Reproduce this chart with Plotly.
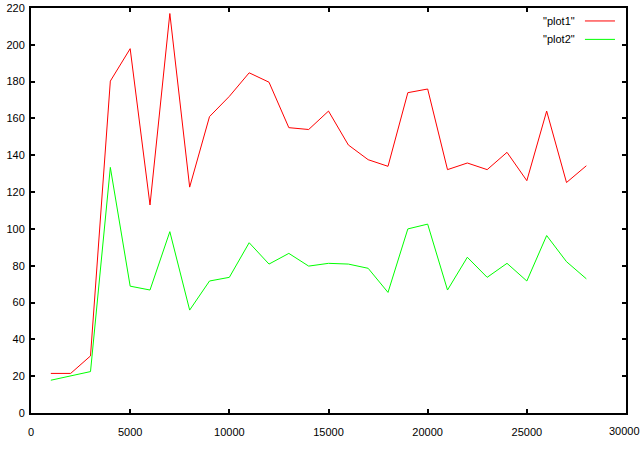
import plotly.graph_objects as go

x_vals = [1000, 2000, 3000, 4000, 5000, 6000, 7000, 8000, 9000, 10000,
          11000, 12000, 13000, 14000, 15000, 16000, 17000, 18000, 19000, 20000,
          21000, 22000, 23000, 24000, 25000, 26000, 27000, 28000]
plot1 = [21.5, 21.5, 31, 180.3, 197.9, 113, 217, 122.7, 161, 172,
         184.8, 179.7, 155, 154, 164, 145.6, 137.6, 134, 174, 176,
         132.2, 135.8, 132.2, 141.6, 126.2, 164, 125.2, 134.3]
plot2 = [17.8, 20.3, 22.5, 133.4, 68.9, 66.8, 98.5, 55.9, 71.7, 73.7,
         92.5, 80.9, 86.7, 79.8, 81.3, 80.9, 78.6, 65.5, 100, 102.6,
         66.8, 84.6, 73.7, 81.3, 71.7, 96.4, 82.2, 72.9]
names = ['"plot1"', '"plot2"']
colors = ["#ff0000", "#00ff00"]
x_ticks = [0, 5000, 10000, 15000, 20000, 25000, 30000]
y_ticks = [0, 20, 40, 60, 80, 100, 120, 140, 160, 180, 200, 220]

FONT = dict(family="Liberation Sans", size=11, color="black")

fig = go.Figure()
for name, ys, c in zip(names, [plot1, plot2], colors):
    fig.add_trace(go.Scatter(x=x_vals, y=ys, mode="lines", name=name,
                             line=dict(color=c, width=1), showlegend=False))

# gnuplot-style legend (text then line sample)
for i, (name, c) in enumerate(zip(names, colors)):
    yp = 0.968 - i * 0.0455
    fig.add_annotation(xref="paper", yref="paper", x=0.9176, y=yp, text=name,
                       showarrow=False, xanchor="right", yanchor="middle", font=FONT)
    fig.add_shape(type="line", xref="paper", yref="paper", x0=0.931, x1=0.9815,
                  y0=yp, y1=yp, line=dict(color=c, width=1))

# last x tick label (plotly drops it because it overflows the page edge)
fig.add_annotation(xref="x", yref="paper", x=x_ticks[-1], y=0, yshift=-10, xshift=-2,
                   text=str(x_ticks[-1]), showarrow=False, xanchor="center",
                   yanchor="top", font=FONT)

axis_common = dict(showgrid=False, zeroline=False, showline=True, linecolor="black",
                   linewidth=2, mirror="ticks", ticks="inside", ticklen=4,
                   tickwidth=2, tickcolor="black", automargin=False, tickfont=FONT)
fig.update_xaxes(range=[0, 30000], tickvals=x_ticks, ticklabelstandoff=8,
                 ticktext=[str(v) for v in x_ticks], **axis_common)
fig.update_yaxes(range=[0, 220], tickvals=y_ticks, ticklabelstandoff=2,
                 ticktext=[str(v) for v in y_ticks], **axis_common)
fig.update_layout(width=640, height=450, plot_bgcolor="white", paper_bgcolor="white",
                  margin=dict(l=31, r=14, t=8, b=37))
fig.write_html("out.html", config={"displayModeBar": False},
               post_script="document.body.style.margin='0';")
